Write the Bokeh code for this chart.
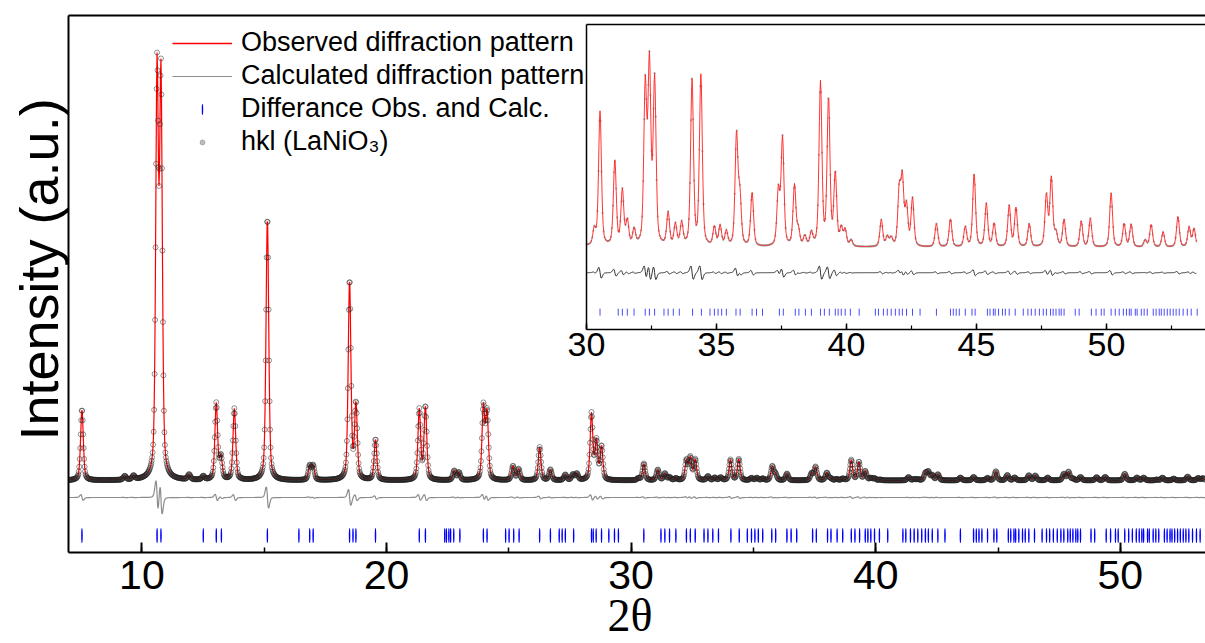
import numpy as np
from bokeh.plotting import figure
from bokeh.models import (Range1d, LinearAxis, FixedTicker, SingleIntervalTicker,
                          Legend, LegendItem, Title)
from bokeh.embed import file_html
from bokeh.resources import INLINE

# ---------------- data ----------------
# reflection positions (2theta, deg) and heights above background (counts)
peak_two_theta = [7.55, 9.30, 9.66, 10.62, 10.78, 11.93, 12.51, 13.04, 13.23, 13.78,
                  15.13, 16.86, 17.00, 18.49, 18.75, 19.55, 21.34, 21.59, 22.77, 22.96,
                  23.96, 24.11, 25.17, 25.40, 26.26, 26.70, 27.31, 27.62, 27.78, 28.38,
                  28.58, 28.79,
                  30.30, 30.52, 31.09, 31.38, 31.57, 31.83, 32.26, 32.42, 32.62, 33.14,
                  33.42, 33.66, 34.06, 34.40, 34.92, 35.14, 35.38, 35.77, 35.90, 36.37,
                  37.38, 37.54, 38.00, 38.15, 38.40, 38.65, 39.00, 39.31, 39.57, 39.80,
                  39.95, 40.18, 41.34, 41.57, 41.72, 42.03, 42.15, 42.31, 42.54, 43.46,
                  44.00, 44.57, 44.91, 45.38, 45.68, 46.26, 46.52, 47.03, 47.69, 47.88,
                  48.06, 48.37, 49.03, 49.38, 50.18, 50.68, 50.95, 51.49, 51.72, 52.18,
                  52.75, 53.18, 53.37, 53.72]
peak_counts = [1670, 90, 90, 9400, 9250, 120, 85, 1800, 520, 1680,
               6200, 330, 330, 4700, 1750, 960, 1650, 1720, 220, 180,
               1700, 1560, 330, 260, 780, 250, 130, 130, 150, 1560,
               900, 780,
               45, 395, 250, 160, 70, 45, 460, 520, 480, 95,
               62, 66, 485, 500, 55, 58, 42, 325, 140, 158,
               160, 315, 178, 45, 28, 38, 480, 430, 210, 50,
               46, 18, 78, 28, 24, 160, 190, 115, 140, 68,
               82, 58, 215, 126, 68, 120, 114, 68, 150, 200,
               38, 80, 76, 83, 158, 68, 66, 20, 66, 44,
               90, 58, 53, 10]
# Bragg reflection marks (2theta, deg)
hkl_two_theta = [7.55, 10.62, 10.78, 12.51, 13.04, 13.25, 15.13, 16.42, 16.86, 17.00,
                 18.49, 18.63, 18.75, 19.55, 21.34, 21.59, 22.38, 22.45, 22.55, 22.62,
                 22.75, 23.00, 23.96, 24.11, 24.87, 25.01, 25.20, 25.42, 26.26, 26.70,
                 27.06, 27.18, 27.31, 27.65, 28.38, 28.45, 28.57, 28.79, 29.09, 29.32,
                 29.48,
                 30.52, 31.22, 31.38, 31.57, 31.83, 32.26, 32.42, 32.62, 32.98, 33.14,
                 33.34, 33.57, 34.08, 34.42, 34.75, 34.92, 35.06, 35.20, 35.38, 35.75,
                 35.91, 36.37, 36.54, 36.77, 37.42, 37.57, 38.03, 38.17, 38.42, 38.65,
                 39.00, 39.15, 39.34, 39.57, 39.68, 39.80, 39.95, 40.15, 40.49, 41.11,
                 41.23, 41.42, 41.57, 41.72, 41.88, 42.03, 42.15, 42.31, 42.54, 42.83,
                 43.46, 44.00, 44.11, 44.22, 44.34, 44.57, 44.83, 44.95, 45.42, 45.52,
                 45.65, 45.72, 45.85, 46.00, 46.11, 46.26, 46.49, 46.80, 46.98, 47.11,
                 47.26, 47.42, 47.57, 47.69, 47.85, 47.95, 48.06, 48.18, 48.26, 48.37,
                 48.80, 48.95, 49.42, 49.60, 49.80, 49.91, 50.18, 50.34, 50.49, 50.65,
                 50.77, 50.88, 50.95, 51.11, 51.18, 51.34, 51.45, 51.57, 51.80, 51.91,
                 52.03, 52.11, 52.22, 52.34, 52.45, 52.57, 52.68, 52.80, 52.95, 53.11,
                 53.26, 53.49]
background_counts = 300.0
peak_fwhm = 0.13           # deg
peak_eta = 0.45            # Lorentzian fraction of the pseudo-Voigt
calc_offset = 0.004        # deg, zero shift of the calculated pattern
step = 0.02                # deg, measurement step

main_x_range = (7.0, 53.48)
main_y_range = (-1394, 11241)
main_diff_level = -400     # offset of the difference curve below the background
main_hkl_level = -994
inset_x_range = (30.0, 53.81)
inset_y_range = (59, 956)
inset_diff_level = -74
inset_hkl_level = 110
legend_key_x = [0.0, 1.0]  # legend swatches live outside the visible 2theta window
legend_key_y = [0.0, 0.0]


def pseudo_voigt(x, x0, fwhm, eta):
    u = (x - x0) / (fwhm / 2.0)
    return eta / (1.0 + u * u) + (1.0 - eta) * np.exp(-np.log(2.0) * u * u)


two_theta = np.arange(main_x_range[0], main_x_range[1], step)
observed = np.full_like(two_theta, background_counts)
calculated = np.full_like(two_theta, background_counts)
for pos, cnt in zip(peak_two_theta, peak_counts):
    observed += cnt * pseudo_voigt(two_theta, pos, peak_fwhm, peak_eta)
    calculated += cnt * pseudo_voigt(two_theta, pos + calc_offset, peak_fwhm, peak_eta)
difference = observed - calculated

FONT = "Liberation Sans"

# ---------------- main figure ----------------
p = figure(width=1205, height=643, output_backend="svg", toolbar_location=None,
           x_range=Range1d(*main_x_range), y_range=Range1d(*main_y_range),
           y_axis_location=None, min_border_left=68, min_border_right=0,
           min_border_top=15, min_border_bottom=91)
p.outline_line_color = None
p.xgrid.visible = False
p.ygrid.visible = False
p.background_fill_color = "white"
p.border_fill_color = "white"

xa = p.xaxis[0]
xa.ticker = SingleIntervalTicker(interval=10, num_minor_ticks=2)
xa.axis_line_width = 2
xa.axis_line_color = "black"
xa.major_tick_in = 10
xa.major_tick_out = 0
xa.minor_tick_in = 5
xa.minor_tick_out = 0
xa.major_tick_line_width = 2
xa.minor_tick_line_width = 1.5
xa.major_label_text_font = FONT
xa.major_label_text_font_size = "41px"
xa.major_label_text_color = "black"
xa.major_label_standoff = 8

p.add_layout(Title(text="2θ", align="left", vertical_align="middle", offset=539, standoff=-5,
                   text_font="Liberation Serif", text_font_size="46px",
                   text_font_style="normal", text_color="black"), "below")

ya = LinearAxis(ticker=FixedTicker(ticks=[]), axis_line_width=2, axis_line_color="black")
p.add_layout(ya, "left")
p.add_layout(Title(text="Intensity (a.u.)", align="left", offset=112, standoff=0,
                   text_font=FONT, text_font_size="54px", text_font_style="normal",
                   text_color="black"), "left")
top_axis = LinearAxis(ticker=FixedTicker(ticks=[]), axis_line_width=2, axis_line_color="black")
p.add_layout(top_axis, "above")

obs_line = p.line(two_theta, observed, line_color="#ff0000", line_width=1.2)
diff_line = p.line(two_theta, difference + background_counts + main_diff_level,
                   line_color="#8c8c8c", line_width=1.2)
hkl_marks = p.ellipse(x=hkl_two_theta, y=[main_hkl_level] * len(hkl_two_theta),
                      width=0.3, height=14, width_units="screen", height_units="screen",
                      fill_color="#0000ff", line_color="#0000ff", line_width=1.2)
obs_points = p.scatter(two_theta, observed, marker="circle", size=5, fill_color=None,
                       line_color="#222222", line_alpha=0.55, line_width=0.9)
# legend swatches
obs_key = p.line(legend_key_x, legend_key_y, line_color="#ff0000", line_width=1.4)
points_key = p.scatter(legend_key_x, legend_key_y, marker="circle", size=4,
                       fill_color="#bdbdbd", line_color="#9a9a9a", line_width=0.8)

legend = Legend(items=[
    LegendItem(label="Observed diffraction pattern", renderers=[obs_key]),
    LegendItem(label="Calculated diffraction pattern", renderers=[diff_line]),
    LegendItem(label="Differance Obs. and Calc.", renderers=[hkl_marks]),
    LegendItem(label="hkl (LaNiO₃)", renderers=[points_key]),
], location=(104, 394))
legend.border_line_color = None
legend.background_fill_alpha = 0
legend.label_text_font = FONT
legend.label_text_font_size = "27px"
legend.label_text_color = "black"
legend.glyph_width = 60
legend.glyph_height = 12
legend.label_height = 33
legend.label_standoff = 9
legend.spacing = 0
legend.padding = 0
legend.margin = 0
p.add_layout(legend)

# ---------------- inset ----------------
inset = figure(width=644, height=354, output_backend="svg", toolbar_location=None,
               x_range=Range1d(*inset_x_range), y_range=Range1d(*inset_y_range),
               y_axis_location=None, min_border_left=25, min_border_right=0,
               min_border_top=4, min_border_bottom=45,
               styles={"position": "absolute", "left": "561px", "top": "20px", "z-index": "5"})
inset.outline_line_color = None
inset.xgrid.visible = False
inset.ygrid.visible = False
inset.background_fill_color = "white"
inset.border_fill_alpha = 0

ia = inset.xaxis[0]
ia.ticker = SingleIntervalTicker(interval=5, num_minor_ticks=2)
ia.axis_line_width = 1.5
ia.axis_line_color = "black"
ia.major_tick_in = 6
ia.major_tick_out = 0
ia.minor_tick_in = 4
ia.minor_tick_out = 0
ia.major_tick_line_width = 1.5
ia.minor_tick_line_width = 1.2
ia.major_label_text_font = FONT
ia.major_label_text_font_size = "34px"
ia.major_label_text_color = "black"
ia.major_label_standoff = 3
inset.add_layout(LinearAxis(ticker=FixedTicker(ticks=[]), axis_line_width=1.5,
                            axis_line_color="black"), "left")
inset.add_layout(LinearAxis(ticker=FixedTicker(ticks=[]), axis_line_width=1.5,
                            axis_line_color="black"), "above")

sel = two_theta >= inset_x_range[0] - 0.2
inset.scatter(two_theta[sel][::2], observed[sel][::2], marker="circle", size=2.2,
              fill_color="#9a9a9a", line_color=None, fill_alpha=0.8)
inset.line(two_theta[sel], observed[sel], line_color="#ff2020", line_width=1, line_alpha=0.9)
inset.line(two_theta[sel], difference[sel] + background_counts + inset_diff_level,
           line_color="#333333", line_width=1)
inset.scatter(hkl_two_theta, [inset_hkl_level] * len(hkl_two_theta), marker="dash", size=7,
              angle=np.pi / 2, line_color="#4a4aff", line_width=1)

open("out.html", "w").write(file_html([p, inset], INLINE, "XRD"))
